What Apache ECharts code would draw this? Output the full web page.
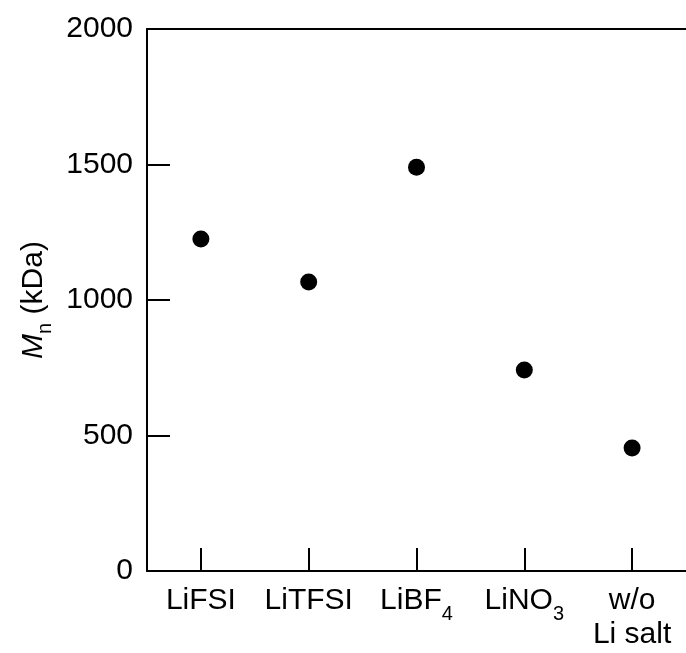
<!DOCTYPE html>
<html>
<head>
<meta charset="utf-8">
<script src="https://cdn.jsdelivr.net/npm/echarts@6/dist/echarts.min.js"></script>
<style>html,body{margin:0;padding:0;background:#fff}#c{width:686px;height:653px}</style>
</head>
<body>
<div id="c"></div>
<script>
const categories = ['LiFSI', 'LiTFSI', 'LiBF4', 'LiNO3', 'w/o Li salt'];
const categoryLabels = ['{a|LiFSI}', '{a|LiTFSI}', '{a|LiBF}{s|4}', '{a|LiNO}{s|3}', '{a|w/o}\n{a|Li salt}'];
const mnValues = [1225, 1066, 1490, 742, 454];
const yTicks = [0, 500, 1000, 1500, 2000];

const FONT = '"Liberation Sans", Arial, sans-serif';
const rich = {
  a: {fontSize: 30, fontFamily: FONT, color: '#000', lineHeight: 34, verticalAlign: 'top'},
  s: {fontSize: 20, fontFamily: FONT, color: '#000', lineHeight: 20, verticalAlign: 'top', padding: [18, 0, 0, 0]}
};

const chart = echarts.init(document.getElementById('c'));
chart.setOption({
  animation: false,
  backgroundColor: '#fff',
  grid: {left: 147, right: -3, top: 29, bottom: 82, show: false},
  xAxis: [{
    type: 'category',
    data: categories,
    boundaryGap: true,
    axisLine: {lineStyle: {color: '#000', width: 2}},
    axisTick: {show: true, inside: true, length: 23, alignWithLabel: true, lineStyle: {color: '#000', width: 2}},
    axisLabel: {
      margin: 15,
      interval: 0,
      formatter: function (v, i) { return categoryLabels[i]; },
      rich: rich
    },
    splitLine: {show: false}
  }, {
    type: 'category',
    data: categories,
    position: 'top',
    axisLine: {show: true, lineStyle: {color: '#000', width: 2}},
    axisTick: {show: false},
    axisLabel: {show: false},
    splitLine: {show: false}
  }],
  yAxis: {
    type: 'value',
    min: yTicks[0],
    max: yTicks[yTicks.length - 1],
    interval: yTicks[1] - yTicks[0],
    name: '{i|M}{n|n}{t| (kDa)}',
    nameLocation: 'middle',
    nameGap: 88,
    nameTextStyle: {
      rich: {
        i: {fontSize: 30, fontFamily: FONT, fontStyle: 'italic', color: '#000', lineHeight: 34, verticalAlign: 'top'},
        n: {fontSize: 20, fontFamily: FONT, color: '#000', lineHeight: 20, verticalAlign: 'top', padding: [17, 0, 0, 0]},
        t: {fontSize: 30, fontFamily: FONT, color: '#000', lineHeight: 34, verticalAlign: 'top'}
      }
    },
    axisLine: {show: true, lineStyle: {color: '#000', width: 2}},
    axisTick: {show: true, inside: true, length: 23, lineStyle: {color: '#000', width: 2}},
    axisLabel: {fontSize: 30, fontFamily: FONT, color: '#000', margin: 14, formatter: function (v) { return String(v); }},
    splitLine: {show: false}
  },
  series: [{
    type: 'scatter',
    data: mnValues,
    symbol: 'circle',
    symbolSize: 17,
    itemStyle: {color: '#000', opacity: 1}
  }]
});
</script>
</body>
</html>
